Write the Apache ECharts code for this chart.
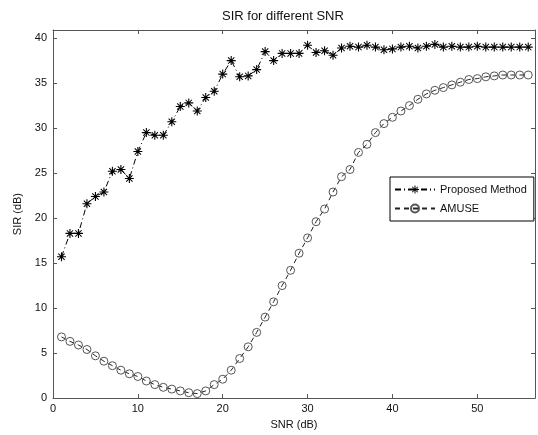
<!DOCTYPE html>
<html>
<head>
<meta charset="utf-8">
<script src="https://cdn.jsdelivr.net/npm/echarts@6/dist/echarts.min.js"></script>
<style>
  html, body { margin: 0; padding: 0; background: #fff; }
  #chart { width: 538px; height: 435px; }
</style>
</head>
<body>
<div id="chart"></div>
<script>
// SNR values (dB), x axis
const snr = [1, 2, 3, 4, 5, 6, 7, 8, 9, 10, 11, 12, 13, 14, 15, 16, 17, 18, 19, 20,
    21, 22, 23, 24, 25, 26, 27, 28, 29, 30, 31, 32, 33, 34, 35, 36, 37, 38, 39, 40,
    41, 42, 43, 44, 45, 46, 47, 48, 49, 50, 51, 52, 53, 54, 55, 56];

// SIR (dB)
const proposed = [15.7, 18.3, 18.3, 21.6, 22.4, 22.9, 25.2, 25.4, 24.4, 27.4,
    29.5, 29.2, 29.2, 30.7, 32.4, 32.8, 31.9, 33.4, 34.1, 36.0,
    37.5, 35.7, 35.8, 36.5, 38.5, 37.5, 38.3, 38.3, 38.3, 39.2,
    38.4, 38.6, 38.1, 38.9, 39.1, 39.0, 39.2, 39.0, 38.7, 38.8,
    39.0, 39.1, 38.9, 39.1, 39.3, 39.0, 39.1, 39.0, 39.0, 39.1,
    39.0, 39.0, 39.0, 39.0, 39.0, 39.0];

const amuse = [6.8, 6.3, 5.9, 5.4, 4.7, 4.1, 3.6, 3.1, 2.7, 2.4,
    1.9, 1.5, 1.2, 1.0, 0.8, 0.6, 0.5, 0.8, 1.5, 2.1,
    3.1, 4.4, 5.7, 7.3, 9.0, 10.7, 12.5, 14.2, 16.1, 17.8,
    19.6, 21.0, 22.9, 24.6, 25.4, 27.3, 28.2, 29.5, 30.5, 31.2,
    31.9, 32.5, 33.2, 33.8, 34.2, 34.5, 34.8, 35.1, 35.4, 35.5,
    35.7, 35.8, 35.9, 35.9, 35.9, 35.9];

const seriesNames = ['Proposed Method', 'AMUSE'];

const asterisk = 'path://M-0.6,-5L0.6,-5L0.6,5L-0.6,5Z M-5,-0.6L5,-0.6L5,0.6L-5,0.6Z ' +
    'M-3.9,-3.1L-3.1,-3.9L3.9,3.1L3.1,3.9Z M3.1,-3.9L3.9,-3.1L-3.1,3.9L-3.9,3.1Z';

const axisColor = '#555';
const font = 'Liberation Sans, Arial, sans-serif';

function pairs(xs, ys) {
    return xs.map((x, i) => [x, ys[i]]);
}

function boxAxis(pos, isX) {
    // mirrored axis for the closed matlab-style box
    return {
        type: 'value',
        position: pos,
        min: 0,
        max: isX ? 56.8 : 40.9,
        interval: isX ? 10 : 5,
        axisLine: { show: true, onZero: false, lineStyle: { color: axisColor, width: 1 } },
        axisTick: { show: true, inside: true, length: 4, lineStyle: { color: axisColor } },
        axisLabel: { show: false },
        splitLine: { show: false }
    };
}

const chart = echarts.init(document.getElementById('chart'));
chart.setOption({
    animation: false,
    backgroundColor: '#fff',
    title: {
        text: 'SIR for different SNR',
        left: 217,
        top: 5,
        textStyle: { fontFamily: font, fontSize: 13, fontWeight: 'normal', color: '#111' }
    },
    grid: { left: 53, right: 2, top: 30, bottom: 36 },
    legend: {
        orient: 'vertical',
        left: 390,
        top: 177,
        data: seriesNames,
        backgroundColor: '#fff',
        borderColor: '#000',
        borderWidth: 1,
        borderRadius: 0,
        padding: [7, 7, 7, 4],
        itemWidth: 40,
        itemHeight: 10,
        itemGap: 8,
        textStyle: { fontFamily: font, fontSize: 11, color: '#111' }
    },
    xAxis: [{
        type: 'value',
        min: 0,
        max: 56.8,
        interval: 10,
        name: 'SNR (dB)',
        nameLocation: 'middle',
        nameGap: 20,
        nameTextStyle: { fontFamily: font, fontSize: 11, color: '#111' },
        axisLine: { show: true, onZero: false, lineStyle: { color: axisColor, width: 1 } },
        axisTick: { show: true, inside: true, length: 4, lineStyle: { color: axisColor } },
        axisLabel: {
            fontFamily: font, fontSize: 11, color: '#111', margin: 5,
            formatter: v => (v % 10 === 0 ? v : '')
        },
        splitLine: { show: false }
    }, boxAxis('top', true)],
    yAxis: [{
        type: 'value',
        min: 0,
        max: 40.9,
        interval: 5,
        name: 'SIR (dB)',
        nameLocation: 'middle',
        nameGap: 22,
        nameTextStyle: { fontFamily: font, fontSize: 11, color: '#111' },
        axisLine: { show: true, onZero: false, lineStyle: { color: axisColor, width: 1 } },
        axisTick: { show: true, inside: true, length: 4, lineStyle: { color: axisColor } },
        axisLabel: {
            fontFamily: font, fontSize: 11, color: '#111', margin: 6,
            formatter: v => (v % 5 === 0 ? v : '')
        },
        splitLine: { show: false }
    }, boxAxis('right', false)],
    series: [
        {
            name: seriesNames[0],
            type: 'line',
            data: pairs(snr, proposed),
            symbol: asterisk,
            symbolSize: 9,
            itemStyle: { color: '#000', borderWidth: 0 },
            lineStyle: { color: '#000', width: 1, type: [6, 3, 1, 3] }
        },
        {
            name: seriesNames[1],
            type: 'line',
            data: pairs(snr, amuse),
            symbol: 'circle',
            symbolSize: 8,
            itemStyle: { color: 'rgba(0,0,0,0)', borderColor: '#555', borderWidth: 1 },
            lineStyle: { color: '#222', width: 1, type: [5, 4] }
        }
    ]
});
</script>
</body>
</html>
